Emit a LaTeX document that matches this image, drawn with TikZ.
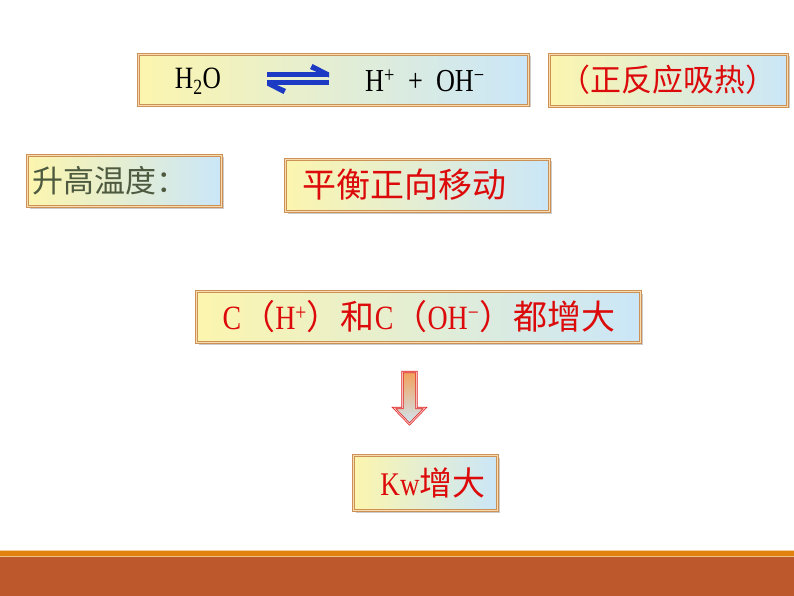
\documentclass[tikz,border=0pt]{standalone}
\usepackage{fontspec}
\setmainfont[FakeStretch=0.82]{Liberation Serif}
\newfontfamily\cjk{Noto Sans CJK SC}
\usetikzlibrary{shadows}
\definecolor{boxY}{HTML}{FCF5AE}
\definecolor{boxM}{HTML}{EEF4D6}
\definecolor{boxB}{HTML}{CAE6F8}
\definecolor{frameC}{HTML}{CD9055}
\definecolor{frameIn}{HTML}{F6DCB0}
\definecolor{txtRed}{HTML}{DC0A0A}
\definecolor{txtGray}{HTML}{4E5A40}
\definecolor{eqBlue}{HTML}{1C3AC4}
\definecolor{bandOrange}{HTML}{E2820E}
\definecolor{bandRust}{HTML}{BD582C}
\definecolor{arrRed}{HTML}{E02424}
\definecolor{arrTop}{HTML}{F2A05C}
\definecolor{arrBot}{HTML}{CFE6F2}
\tikzset{
  panel/.style={draw=frameC, line width=0.9pt, double=frameIn, double distance=1.4pt,
    left color=boxY, middle color=boxM, right color=boxB,
    drop shadow={shadow xshift=2pt, shadow yshift=-2pt, opacity=0.2, fill=black},
    inner sep=0pt, rectangle},
  lbl/.style={inner sep=0pt, font=\fontsize{31}{34}\selectfont},
}
\begin{document}
\begin{tikzpicture}[x=1pt, y=-1pt]
\useasboundingbox (0,0) rectangle (794,596);
\fill[white] (0,0) rectangle (794,596);
% panels
\node[panel, minimum width=390pt, minimum height=51pt] (eq) at (333.5,80) {};
\node[panel, minimum width=238pt, minimum height=52pt] (note) at (668.5,80.5) {};
\node[panel, minimum width=194pt, minimum height=51pt] (heat) at (124.5,181) {};
\node[panel, minimum width=264pt, minimum height=52pt] (shift) at (417.5,185.5) {};
\node[panel, minimum width=444pt, minimum height=51pt] (conc) at (418.5,317) {};
\node[panel, minimum width=144pt, minimum height=55pt] (kw) at (425.5,483) {};
% texts
\node[lbl] (h2o) at (198,81) {H\textsubscript{2}O};
\node[lbl, font=\fontsize{32}{34}\selectfont] (ions) at (425,81) {H\textsuperscript{+}\ \ +\ \ OH\textsuperscript{−}};
\node[lbl, text=txtRed, font=\fontsize{31}{34}\selectfont\cjk] (notet) at (668,80) {（正反应吸热）};
\node[lbl, text=txtGray, font=\fontsize{31}{34}\selectfont\cjk] (heatt) at (110,181) {升高温度：};
\node[lbl, text=txtRed, font=\fontsize{34}{36}\selectfont\cjk] (shiftt) at (404,185) {平衡正向移动};
\node[lbl, text=txtRed, font=\fontsize{34}{36}\selectfont] (conct) at (419,317) {C{\cjk （}H\textsuperscript{+}{\cjk ）和}C{\cjk （}OH\textsuperscript{−}{\cjk ）都增大}};
\node[lbl, text=txtRed, font=\fontsize{33}{34}\selectfont] (kwt) at (433,483) {Kw{\cjk 增大}};
% equilibrium half arrows
\coordinate (eqL) at (267,0);
\coordinate (eqR) at (329,0);
\fill[eqBlue] (eqL |- 0,72.5) -- (eqR |- 0,72.5) -- (eqR |- 0,77.5) -- (eqL |- 0,77.5) -- cycle;
\fill[eqBlue] (eqR |- 0,77.5) -- (310,69) -- (312.5,64) -- (eqR |- 0,72.5) -- cycle;
\fill[eqBlue] (eqL |- 0,80.5) -- (eqR |- 0,80.5) -- (eqR |- 0,85.5) -- (eqL |- 0,85.5) -- cycle;
\fill[eqBlue] (eqL |- 0,80.5) -- (286,89) -- (283.5,94) -- (eqL |- 0,85.5) -- cycle;
% down arrow between conc and kw
\coordinate (aTop) at (409.5,372);
\coordinate (aTip) at (409.5,424);
\path[draw=arrRed, line width=0.7pt, double=white!70!arrRed, double distance=0.9pt,
  top color=arrTop, bottom color=arrBot]
  ([xshift=-7pt]aTop) -- ([xshift=7pt]aTop) -- ([xshift=7pt]aTop |- 0,408)
  -- ([xshift=15.5pt]aTop |- 0,408) -- (aTip) -- ([xshift=-15.5pt]aTop |- 0,408)
  -- ([xshift=-7pt]aTop |- 0,408) -- cycle;
% bottom band
\fill[white!60!bandOrange] (0,549.5) rectangle (794,550.5);
\fill[bandOrange] (0,550.5) rectangle (794,556);
\fill[white!50!bandOrange] (0,556) rectangle (794,557);
\fill[bandRust] (0,557) rectangle (794,596);
\end{tikzpicture}
\end{document}
